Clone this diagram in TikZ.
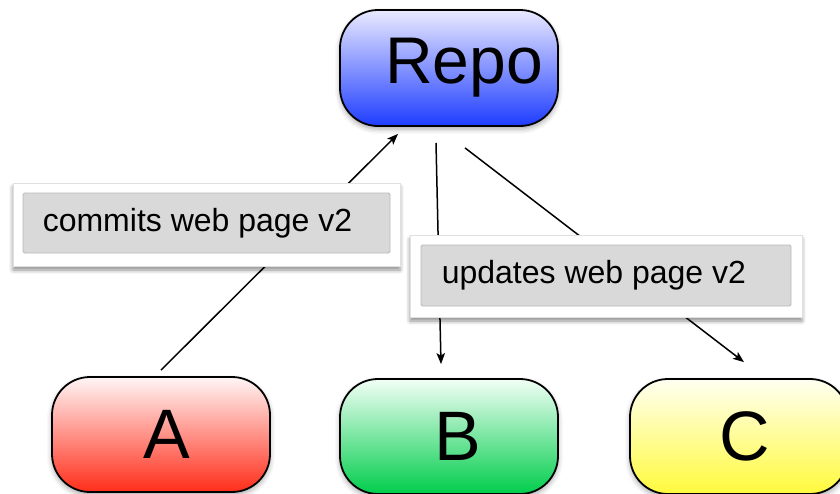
\documentclass[tikz,border=0pt]{standalone}
\usepackage{fontspec}
\setmainfont{Liberation Sans}
\usetikzlibrary{arrows.meta,shadows.blur}
\definecolor{repoTop}{RGB}{234,234,255}
\definecolor{repoBot}{RGB}{30,60,255}
\definecolor{aTop}{RGB}{255,246,246}
\definecolor{aBot}{RGB}{255,45,25}
\definecolor{bTop}{RGB}{242,255,246}
\definecolor{bBot}{RGB}{0,205,75}
\definecolor{cTop}{RGB}{255,255,242}
\definecolor{cBot}{RGB}{255,250,60}
\definecolor{grayFill}{RGB}{217,217,217}
\definecolor{grayLine}{RGB}{185,185,185}
\tikzset{
  bigbox/.style={draw=black, line width=1.8pt, rounded corners=38pt,
    minimum width=218pt, inner sep=0pt,
    blur shadow={shadow xshift=0pt, shadow yshift=-3pt, shadow blur radius=5pt, shadow opacity=35}},
  bigtext/.style={font=\fontsize{70}{74}\selectfont},
  outerbox/.style={draw=black!12, line width=0.6pt, fill=white, inner sep=0pt,
    blur shadow={shadow xshift=0pt, shadow yshift=-4pt, shadow blur radius=4pt, shadow opacity=45}},
  graybox/.style={draw=grayLine, line width=0.8pt, fill=grayFill, rounded corners=1.5pt, inner sep=0pt},
  labeltext/.style={font=\fontsize{32}{36}\selectfont, inner sep=0pt, anchor=west},
  arr/.style={line width=1.5pt, -{Stealth[length=11pt,width=8.5pt,inset=2.5pt]}}
}
\begin{document}
\begin{tikzpicture}[x=1pt,y=-1pt]
\useasboundingbox (0,0) rectangle (840,493);
% main boxes
\node[bigbox, top color=repoTop, bottom color=repoBot, minimum height=116pt] (repo) at (449,68)
  {\fontsize{66}{70}\selectfont\kern30pt Repo};
\node[bigbox, bigtext, top color=aTop, bottom color=aBot, minimum height=115pt] (A) at (161,434.5)
  {\kern12pt A};
\node[bigbox, bigtext, top color=bTop, bottom color=bBot, minimum height=115pt] (B) at (449,436.5)
  {\kern18pt B};
\node[bigbox, bigtext, top color=cTop, bottom color=cBot, minimum height=115pt] (C) at (739,436.5)
  {\kern12pt C};
% connectors
\draw[arr] ([yshift=6pt]A.north) -- ([xshift=-51pt,yshift=-7pt]repo.south);
\draw[arr] ([xshift=-13pt,yshift=-16pt]repo.south) -- ([xshift=-8pt,yshift=14pt]B.north);
\draw[arr] ([xshift=16pt,yshift=-21pt]repo.south) -- ([xshift=5pt,yshift=16pt]C.north);
% label 1
\node[outerbox, minimum width=387pt, minimum height=83pt] (o1) at (206.5,224.5) {};
\node[graybox, minimum width=367pt, minimum height=60pt] (g1) at (206.5,223) {};
\node[labeltext] (t1) at ([xshift=20pt]g1.west) {commits web page v2};
% label 2
\node[outerbox, minimum width=392pt, minimum height=82pt] (o2) at (606,276) {};
\node[graybox, minimum width=370pt, minimum height=61pt] (g2) at (606,275.5) {};
\node[labeltext] (t2) at ([xshift=21pt]g2.west) {updates web page v2};
\end{tikzpicture}
\end{document}
